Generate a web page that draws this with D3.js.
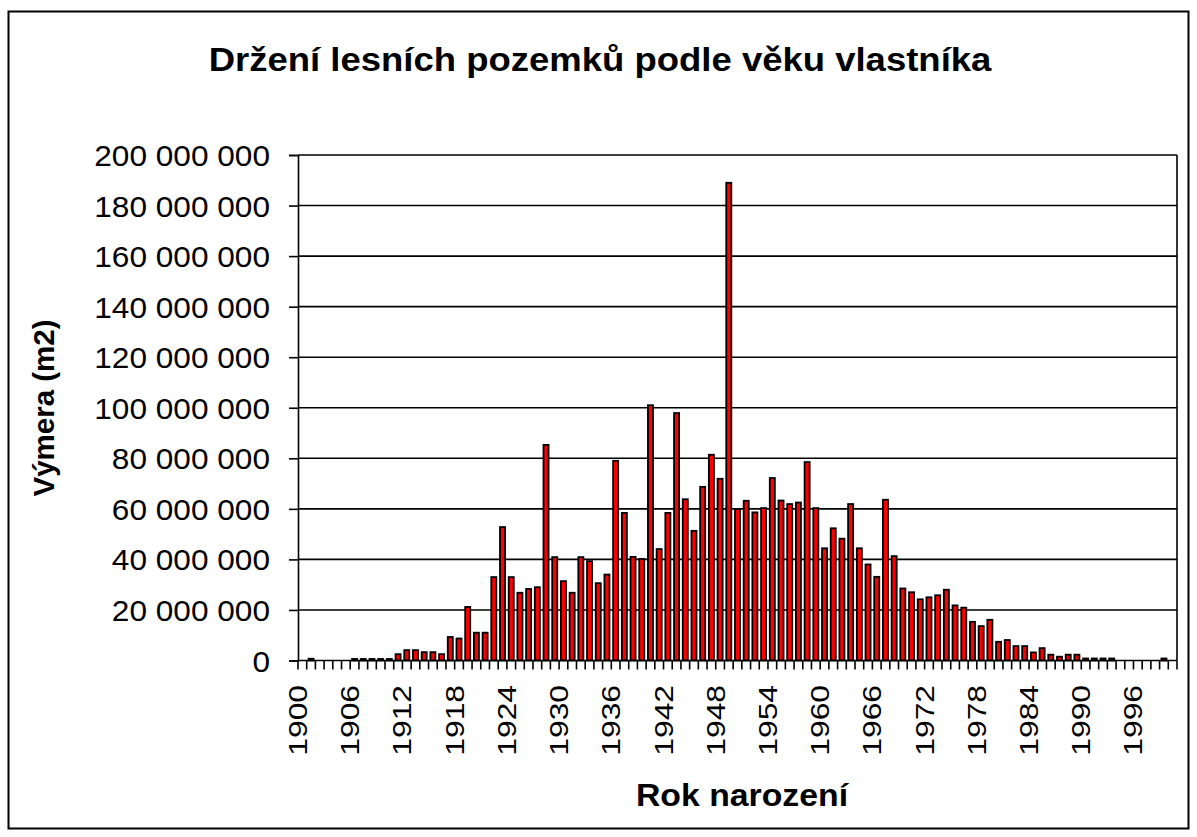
<!DOCTYPE html>
<html>
<head>
<meta charset="utf-8">
<script src="https://cdn.jsdelivr.net/npm/d3@7/dist/d3.min.js"></script>
<style>
  html, body { margin: 0; padding: 0; background: #fff; }
  svg { display: block; font-family: Arial, "Liberation Sans", sans-serif; }
</style>
</head>
<body>
<svg id="chart" width="1197" height="837"></svg>
<script>
// ---- data ----
const title = "Držení lesních pozemků podle věku vlastníka";
const yTitle = "Výmera (m2)";
const xTitle = "Rok narození";

const years = d3.range(1900, 2001);
// values in millions of m2, one per year 1900..2000
const valuesMillions = [
  0, 0.7, 0, 0, 0, 0, 0.6, 0.6, 0.6, 0.6,          // 1900-1909
  0.6, 2.5, 4.1, 4.1, 3.3, 3.3, 2.5, 9.3, 8.7, 21.2, // 1910-1919
  11.0, 11.0, 33.0, 52.8, 33.0, 26.8, 28.3, 29.0, 85.3, 40.9, // 1920-1929
  31.4, 26.8, 40.9, 39.3, 30.6, 34.0, 79.0, 58.4, 41.0, 40.2, // 1930-1939
  101.0, 44.1, 58.4, 97.9, 63.8, 51.3, 68.7, 81.4, 71.9, 189.0, // 1940-1949
  59.9, 63.2, 58.6, 60.3, 72.2, 63.3, 61.9, 62.5, 78.5, 60.3, // 1950-1959
  44.4, 52.3, 48.2, 61.9, 44.4, 38.0, 33.1, 63.6, 41.3, 28.5, // 1960-1969
  27.0, 24.2, 25.0, 25.8, 28.0, 21.8, 20.9, 15.3, 13.6, 16.1, // 1970-1979
  7.4, 8.1, 5.7, 5.7, 3.2, 4.9, 2.3, 1.5, 2.3, 2.3,          // 1980-1989
  0.8, 0.8, 0.8, 0.8, 0, 0, 0, 0, 0, 0.8,                    // 1990-1999
  0                                                          // 2000
];
const values = valuesMillions.map(v => v * 1e6);
const yTicks = d3.range(0, 200000001, 20000000);
const xLabelYears = d3.range(1900, 2001, 6);

// ---- layout ----
const svg = d3.select("#chart");
const plot = { left: 298, right: 1177, top: 155, bottom: 660.5 };

svg.append("rect")
  .attr("x", 0).attr("y", 0).attr("width", 1197).attr("height", 837)
  .attr("fill", "#fff");

svg.append("rect")
  .attr("x", 8.5).attr("y", 11.5).attr("width", 1180).attr("height", 817)
  .attr("fill", "none").attr("stroke", "#000").attr("stroke-width", 2);

const x = d3.scaleBand()
  .domain(years)
  .range([plot.left, plot.right])
  .paddingInner(0.42)
  .paddingOuter(0.21);

const y = d3.scaleLinear()
  .domain([0, 200000000])
  .range([plot.bottom, plot.top]);

const step = x.step();
const boundary = yr => x(yr) - step * x.paddingInner() / 2;

// gridlines
svg.append("g").selectAll("line")
  .data(yTicks.slice(1))
  .join("line")
  .attr("x1", plot.left).attr("x2", plot.right)
  .attr("y1", d => y(d)).attr("y2", d => y(d))
  .attr("stroke", "#000").attr("stroke-width", 1.6);

// right border of plot area
svg.append("line")
  .attr("x1", plot.right).attr("x2", plot.right)
  .attr("y1", plot.top).attr("y2", plot.bottom)
  .attr("stroke", "#000").attr("stroke-width", 1.6);

// bars
svg.append("g").selectAll("rect")
  .data(years.map((yr, i) => ({ yr, v: values[i] })).filter(d => d.v > 0))
  .join("rect")
  .attr("x", d => x(d.yr))
  .attr("width", x.bandwidth())
  .attr("y", d => y(d.v))
  .attr("height", d => y(0) - y(d.v))
  .attr("fill", "#ff0000")
  .attr("stroke", "#000")
  .attr("stroke-width", 1.8);

// y axis
const fmt = v => d3.format(",")(v).replace(/,/g, " ");
const yAxis = svg.append("g")
  .attr("transform", `translate(${plot.left},0)`)
  .call(d3.axisLeft(y).tickValues(yTicks).tickFormat(fmt).tickSize(9).tickPadding(0));
yAxis.select(".domain").attr("stroke", "#000").attr("stroke-width", 1.6);
yAxis.selectAll(".tick line").attr("stroke", "#000").attr("stroke-width", 1.6);
yAxis.selectAll(".tick text")
  .attr("x", null).attr("dy", null)
  .attr("fill", "#000")
  .attr("font-size", 29)
  .attr("text-anchor", "end")
  .attr("transform", "translate(-28,10.5) scale(1.09,1)");

// x axis line and ticks at category boundaries
const xAxisG = svg.append("g");
xAxisG.append("line")
  .attr("x1", plot.left).attr("x2", plot.right)
  .attr("y1", plot.bottom).attr("y2", plot.bottom)
  .attr("stroke", "#000").attr("stroke-width", 1.6);
const tickPos = years.map(boundary).concat([plot.right]);
xAxisG.selectAll("line.tk")
  .data(tickPos)
  .join("line")
  .attr("class", "tk")
  .attr("x1", d => d).attr("x2", d => d)
  .attr("y1", plot.bottom).attr("y2", plot.bottom + 9)
  .attr("stroke", "#000").attr("stroke-width", 1.6);

xAxisG.selectAll("text")
  .data(xLabelYears)
  .join("text")
  .attr("transform", d => `translate(${boundary(d) + 9},685) rotate(-90) scale(1.2,1)`)
  .attr("text-anchor", "end")
  .attr("font-size", 26.5)
  .attr("fill", "#000")
  .text(d => d);

// titles
svg.append("text")
  .attr("transform", "translate(600,71) scale(1.09,1)")
  .attr("text-anchor", "middle")
  .attr("font-size", 33.5)
  .attr("font-weight", "bold")
  .attr("fill", "#000")
  .text(title);

svg.append("text")
  .attr("transform", "translate(54,408) rotate(-90)")
  .attr("text-anchor", "middle")
  .attr("font-size", 29.5)
  .attr("font-weight", "bold")
  .attr("fill", "#000")
  .text(yTitle);

svg.append("text")
  .attr("transform", "translate(742,806) scale(1.09,1)")
  .attr("text-anchor", "middle")
  .attr("font-size", 31)
  .attr("font-weight", "bold")
  .attr("fill", "#000")
  .text(xTitle);
</script>
</body>
</html>
